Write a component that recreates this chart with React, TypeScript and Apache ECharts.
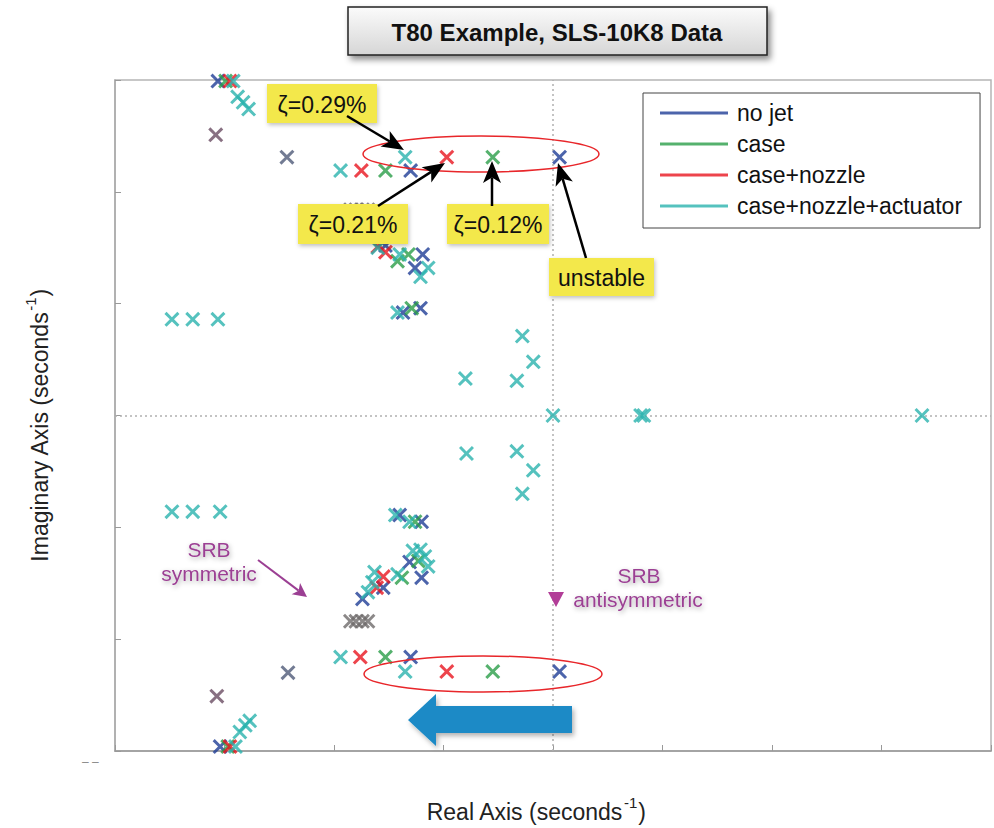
import React, { useEffect, useRef } from "react";
import * as echarts from "echarts";

// Pole locations [real, imaginary] for each configuration
const seriesNames = ["no jet", "case", "case+nozzle", "case+nozzle+actuator"];

const noJetPoles: [number, number][] = [
  [-3.06, 2.99], [-1.30, 2.19], [0.06, 2.31], [-1.19, 1.44], [-1.26, 1.32],
  [-1.37, 0.92], [-1.21, 0.96], [-1.72, 1.64], [-1.53, 1.52],
  [-3.04, -2.96], [-1.30, -2.16], [0.06, -2.29], [-1.40, -0.89], [-1.20, -0.95],
  [-1.31, -1.31], [-1.20, -1.45], [-1.55, -1.54], [-1.74, -1.64],
];

const casePoles: [number, number][] = [
  [-2.99, 2.99], [-1.53, 2.19], [-0.55, 2.31], [-1.32, 1.44], [-1.29, 0.96], [-1.42, 1.38],
  [-2.97, -2.96], [-1.53, -2.16], [-0.55, -2.29], [-1.26, -0.95], [-1.23, -1.30], [-1.38, -1.45],
];

const caseNozzlePoles: [number, number][] = [
  [-2.95, 2.99], [-1.75, 2.19], [-0.97, 2.31], [-1.53, 1.46], [-1.60, 1.51],
  [-2.95, -2.96], [-1.76, -2.16], [-0.97, -2.29], [-1.55, -1.44], [-1.61, -1.54],
];

const actuatorPoles: [number, number][] = [
  [-2.92, 2.99], [-2.88, 2.85], [-2.83, 2.80], [-2.78, 2.74], [-1.94, 2.19], [-1.35, 2.31],
  [-3.48, 0.86], [-3.29, 0.86], [-3.06, 0.86], [-1.60, 1.50], [-1.40, 1.44], [-1.14, 1.32],
  [-1.21, 1.24], [-1.42, 0.92], [-0.28, 0.71], [-0.18, 0.48], [-0.80, 0.33], [-0.33, 0.31],
  [0, 0], [0.80, 0], [0.83, 0], [3.37, 0],
  [-2.90, -2.96], [-2.86, -2.83], [-2.81, -2.77], [-2.77, -2.73], [-1.94, -2.16], [-1.35, -2.29],
  [-3.48, -0.86], [-3.29, -0.86], [-3.04, -0.86], [-1.44, -0.89], [-1.31, -0.95], [-1.28, -1.21],
  [-1.21, -1.20], [-1.17, -1.26], [-1.14, -1.35], [-1.42, -1.42], [-1.63, -1.40], [-1.65, -1.49],
  [-1.69, -1.58], [-0.79, -0.34], [-0.33, -0.32], [-0.18, -0.49], [-0.28, -0.70],
];

// Poles common to every configuration (marks overlap)
const commonPolesA: [number, number][] = [[-3.08, 2.51], [-3.07, -2.51]];
const commonPolesB: [number, number][] = [[-2.43, 2.31], [-2.42, -2.30]];
const commonPolesC: [number, number][] = [
  [-1.85, 1.84], [-1.80, 1.84], [-1.74, 1.84], [-1.69, 1.84],
  [-1.85, -1.84], [-1.80, -1.84], [-1.74, -1.84], [-1.69, -1.84],
];

const FONT = "'Liberation Sans', Arial, Helvetica, sans-serif";
const X_MARK =
  "path://M0,14 L14,0 L50,36 L86,0 L100,14 L64,50 L100,86 L86,100 L50,64 L14,100 L0,86 L36,50 Z";

const COLORS = ["#1f3d96", "#2a9d48", "#e8151f", "#2ab3ae"];

function arrow(
  x1: number, y1: number, x2: number, y2: number,
  color: string, width: number, headLen: number, headHalf: number
) {
  const dx = x2 - x1;
  const dy = y2 - y1;
  const len = Math.hypot(dx, dy);
  const ux = dx / len;
  const uy = dy / len;
  const px = -uy;
  const py = ux;
  const bx = x2 - ux * headLen;
  const by = y2 - uy * headLen;
  const nx = x2 - ux * headLen * 0.75;
  const ny = y2 - uy * headLen * 0.75;
  return [
    {
      type: "line",
      z: 100,
      shape: { x1, y1, x2: nx, y2: ny },
      style: { stroke: color, lineWidth: width },
    },
    {
      type: "polygon",
      z: 100,
      shape: {
        points: [
          [x2, y2],
          [bx + px * headHalf, by + py * headHalf],
          [nx, ny],
          [bx - px * headHalf, by - py * headHalf],
        ],
      },
      style: { fill: color },
    },
  ];
}

function tag(x: number, y: number, w: number, h: number, text: string) {
  return [
    {
      type: "rect",
      z: 100,
      shape: { x, y, width: w, height: h },
      style: {
        fill: "#f3e84c",
        shadowBlur: 4,
        shadowColor: "rgba(0,0,0,0.25)",
        shadowOffsetX: 1,
        shadowOffsetY: 2,
      },
    },
    {
      type: "text",
      z: 101,
      x: x + w / 2,
      y: y + h / 2 + 1,
      style: {
        text,
        fill: "#111",
        font: `23px ${FONT}`,
        align: "center",
        verticalAlign: "middle",
      },
    },
  ];
}

function purpleLabel(x: number, y: number, text: string) {
  return {
    type: "text",
    z: 100,
    x,
    y,
    style: {
      text,
      fill: "#9b3f93",
      font: `21px ${FONT}`,
      align: "center",
      verticalAlign: "middle",
      textShadowBlur: 5,
      textShadowColor: "rgba(0,0,0,0.35)",
      textShadowOffsetX: 1,
      textShadowOffsetY: 2,
    },
  };
}

export default function App() {
  const ref = useRef<HTMLDivElement>(null);

  useEffect(() => {
    if (!ref.current) return;
    const chart = echarts.init(ref.current, undefined, { renderer: "svg" });

    const poleSets = [noJetPoles, casePoles, caseNozzlePoles, actuatorPoles];

    const mainSeries = poleSets.map((data, i) => ({
      type: "scatter",
      name: seriesNames[i],
      data,
      symbol: X_MARK,
      symbolSize: 15,
      itemStyle: { color: COLORS[i] },
      z: 3 + i,
      ...(i === 3
        ? {
            markLine: {
              silent: true,
              z: 1,
              symbol: ["none", "none"],
              label: { show: false },
              lineStyle: { type: [2, 3], color: "#b0b0b0", width: 1.5 },
              data: [{ xAxis: 0 }, { yAxis: 0 }],
            },
          }
        : {}),
    }));

    const commonSeries = [
      { data: commonPolesA, color: "#6a4c63" },
      { data: commonPolesB, color: "#4f5a78" },
      { data: commonPolesC, color: "#6e6a6a" },
    ].map((c, i) => ({
      type: "scatter",
      name: `common ${i + 1}`,
      data: c.data,
      symbol: X_MARK,
      symbolSize: 15,
      itemStyle: { color: c.color },
      z: 8,
    }));

    const graphics: any[] = [
      // title box
      {
        type: "rect",
        z: 100,
        shape: { x: 348, y: 7, width: 419, height: 48 },
        style: {
          fill: new echarts.graphic.LinearGradient(0, 0, 0, 1, [
            { offset: 0, color: "#fbfbfb" },
            { offset: 1, color: "#d6d6d6" },
          ]),
          stroke: "#222",
          lineWidth: 1.5,
          shadowBlur: 6,
          shadowOffsetX: 3,
          shadowOffsetY: 4,
          shadowColor: "rgba(0,0,0,0.45)",
        },
      },
      {
        type: "text",
        z: 101,
        x: 557,
        y: 32,
        style: {
          text: "T80 Example, SLS-10K8 Data",
          fill: "#111",
          font: `bold 24px ${FONT}`,
          align: "center",
          verticalAlign: "middle",
        },
      },
      // ellipses around the lightly damped pole pairs
      {
        type: "ellipse",
        z: 90,
        shape: { cx: 481, cy: 154, rx: 118, ry: 18 },
        style: { fill: "none", stroke: "#e8262a", lineWidth: 1.5 },
      },
      {
        type: "ellipse",
        z: 90,
        shape: { cx: 483, cy: 674, rx: 119, ry: 18 },
        style: { fill: "none", stroke: "#e8262a", lineWidth: 1.5 },
      },
      // damping labels with pointers
      ...tag(267, 84, 110, 39, "ζ=0.29%"),
      ...tag(298, 204, 110, 40, "ζ=0.21%"),
      ...tag(447, 204, 102, 40, "ζ=0.12%"),
      ...tag(549, 258, 105, 38, "unstable"),
      ...arrow(347, 116, 404, 150, "#000", 2.5, 22, 9),
      ...arrow(378, 206, 445, 163, "#000", 2.5, 22, 9),
      ...arrow(492, 206, 492, 161, "#000", 2.5, 22, 9),
      ...arrow(586, 258, 558, 163, "#000", 2.5, 22, 9),
      // SRB mode labels
      purpleLabel(209, 549, "SRB"),
      purpleLabel(209, 573, "symmetric"),
      purpleLabel(639, 575, "SRB"),
      purpleLabel(638, 599, "antisymmetric"),
      ...arrow(258, 560, 307, 597, "#9b3f93", 2, 14, 7),
      {
        type: "polygon",
        z: 100,
        shape: { points: [[548, 592], [564, 592], [556, 607]] },
        style: { fill: "#b23e98" },
      },
      // direction arrow
      {
        type: "polygon",
        z: 100,
        shape: {
          points: [
            [408, 720], [436, 694], [436, 706], [572, 706],
            [572, 733], [436, 733], [436, 746],
          ],
        },
        style: {
          fill: "#1b8ac6",
          shadowBlur: 5,
          shadowColor: "rgba(0,0,0,0.3)",
          shadowOffsetX: 2,
          shadowOffsetY: 3,
        },
      },
      {
        type: "text",
        z: 100,
        x: 82,
        y: 756,
        style: { text: "‒ ‒", fill: "#888", font: `12px ${FONT}` },
      },
    ];

    const axisName = (t: string) => `{n|${t} (seconds}{s|-1}{n|)}`;
    const nameRich = {
      n: { fontSize: 23, fontFamily: FONT, color: "#222", lineHeight: 28, verticalAlign: "bottom" },
      s: { fontSize: 15, fontFamily: FONT, color: "#222", lineHeight: 28, verticalAlign: "top", padding: [0, 1, 9, 1] },
    };

    chart.setOption({
      animation: false,
      backgroundColor: "#fff",
      grid: {
        left: 115,
        right: 3,
        top: 80,
        bottom: 76,
        show: true,
        borderColor: "#b5b5b5",
        borderWidth: 1.5,
        backgroundColor: "#fff",
      },
      xAxis: {
        type: "value",
        min: -4,
        max: 4,
        interval: 1,
        axisLabel: { show: false },
        splitLine: { show: false },
        axisLine: { show: true, onZero: false, lineStyle: { color: "#999", width: 1.5 } },
        axisTick: { show: true, inside: true, length: 6, lineStyle: { color: "#999" } },
        name: axisName("Real Axis"),
        nameLocation: "middle",
        nameGap: 44,
        nameTextStyle: { rich: nameRich, padding: [0, 34, 0, 0] },
      },
      yAxis: {
        type: "value",
        min: -3,
        max: 3,
        interval: 1,
        axisLabel: { show: false },
        splitLine: { show: false },
        axisLine: { show: true, onZero: false, lineStyle: { color: "#aaa", width: 1.5 } },
        axisTick: { show: true, inside: true, length: 6, lineStyle: { color: "#999" } },
        name: axisName("Imaginary Axis"),
        nameLocation: "middle",
        nameRotate: 90,
        nameGap: 64,
        nameTextStyle: { rich: nameRich, padding: [0, 20, 0, 0] },
      },
      legend: {
        data: seriesNames,
        orient: "vertical",
        left: 643,
        top: 93,
        padding: [8, 18, 10, 17],
        itemGap: 7,
        itemWidth: 68,
        itemHeight: 3,
        icon: "rect",
        borderColor: "#444",
        borderWidth: 1,
        backgroundColor: "#fff",
        textStyle: { fontSize: 23, fontFamily: FONT, color: "#111", lineHeight: 24, padding: [0, 0, 0, 4] },
      },
      graphic: graphics,
      series: [...mainSeries, ...commonSeries],
    });

    return () => chart.dispose();
  }, []);

  return (
    <div
      ref={ref}
      style={{ position: "fixed", left: 0, top: 0, width: 994, height: 828, background: "#fff" }}
    />
  );
}
